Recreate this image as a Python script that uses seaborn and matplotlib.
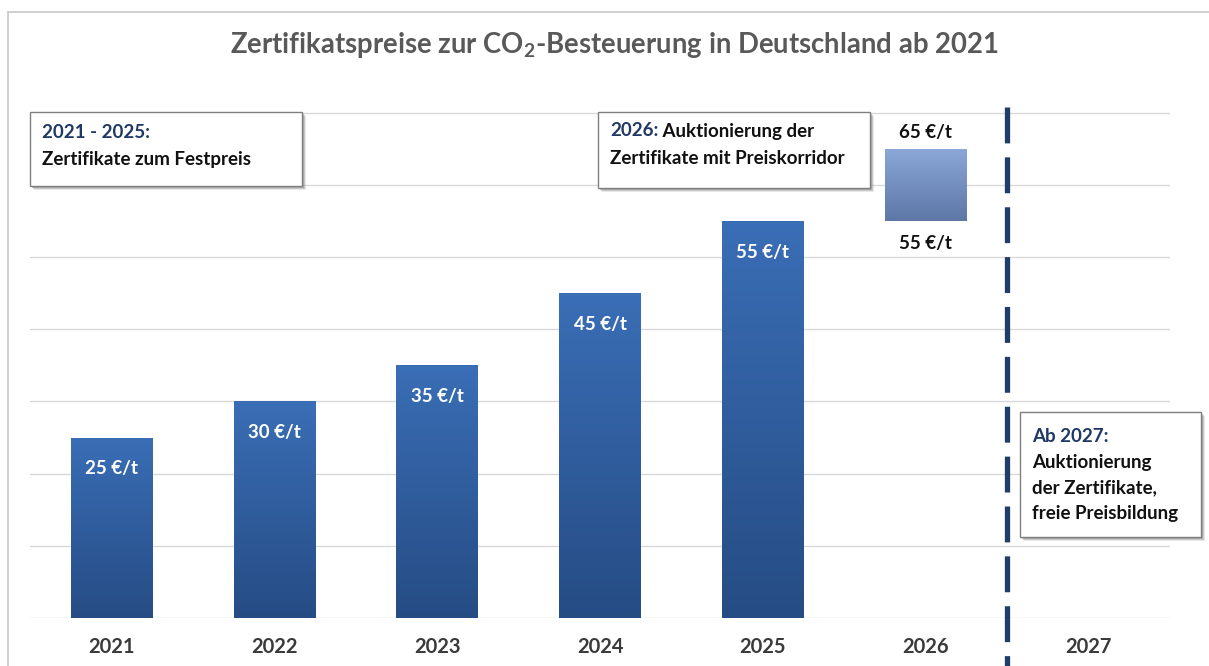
import numpy as np
import pandas as pd
import matplotlib
matplotlib.use('Agg')
import matplotlib.pyplot as plt
import seaborn as sns
from matplotlib.colors import LinearSegmentedColormap
from matplotlib.patches import Rectangle
from matplotlib.lines import Line2D
from matplotlib.text import Annotation

# --- Data ---
years = ['2021', '2022', '2023', '2024', '2025', '2026', '2027']
fixed_years = ['2021', '2022', '2023', '2024', '2025']
fixed_prices = [25, 30, 35, 45, 55]
corridor_year = '2026'
corridor_low = 55
corridor_high = 65
free_year = '2027'

title = r'Zertifikatspreise zur CO$_\mathregular{2}$-Besteuerung in Deutschland ab 2021'

box_texts = [
    ('2021 - 2025:', '', ['Zertifikate zum Festpreis']),
    ('2026:', ' Auktionierung der', ['Zertifikate mit Preiskorridor']),
    ('Ab 2027:', '', ['Auktionierung', 'der Zertifikate,', 'freie Preisbildung']),
]

df = pd.DataFrame({'year': fixed_years, 'price': fixed_prices})

# --- Style ---
sns.set_theme(style='white')
plt.rcParams['font.family'] = ['Lato', 'DejaVu Sans']
plt.rcParams['font.weight'] = 'bold'

W, H = 1209, 666
fig = plt.figure(figsize=(W / 100, H / 100), dpi=100)
fig.patch.set_facecolor('white')

def fx(x):
    return x / W

def fy(y):
    return 1 - y / H

ymax = 72
px_per_unit = 7.22
ax_top = 618 - ymax * px_per_unit
ax = fig.add_axes([fx(30), fy(618), fx(1170) - fx(30), (618 - ax_top) / H])

navy = '#1f3864'
bar_top = '#3a6eb6'
bar_bottom = '#264c84'
corr_top = '#8ba8d8'
corr_bottom = '#5d77a6'
txt_fs = 13.5

sns.barplot(data=df, x='year', y='price', order=years, width=0.5,
            color=bar_top, saturation=1, ax=ax, zorder=2)

ci = years.index(corridor_year)
ax.bar(ci, corridor_high - corridor_low, bottom=corridor_low, width=0.5,
       color=corr_top, zorder=2)


def gradient_fill(patch, top_color, bottom_color):
    x0, y0 = patch.get_x(), patch.get_y()
    w, h = patch.get_width(), patch.get_height()
    cmap = LinearSegmentedColormap.from_list('g', [bottom_color, top_color])
    grad = np.linspace(0, 1, 256).reshape(-1, 1)
    im = ax.imshow(grad, extent=[x0, x0 + w, y0, y0 + h], origin='lower',
                   aspect='auto', cmap=cmap, zorder=2.5)
    im.set_clip_path(patch)
    patch.set_facecolor('none')
    patch.set_edgecolor('none')


for p in list(ax.patches):
    if p.get_height() <= 0:
        continue
    if p.get_y() > 0:
        gradient_fill(p, corr_top, corr_bottom)
    else:
        gradient_fill(p, bar_top, bar_bottom)

ax.set_xlim(-0.5, len(years) - 0.5)
ax.set_ylim(0, ymax)

# value labels inside bars
for yr, v in zip(fixed_years, fixed_prices):
    xi = years.index(yr)
    ax.annotate(f'{v} €/t', xy=(xi, v), xytext=(0, -22.5), textcoords='offset points',
                ha='center', va='center', color='white', fontsize=txt_fs,
                fontweight='bold', zorder=4)

ax.annotate(f'{corridor_high} €/t', xy=(ci, corridor_high), xytext=(0, 12),
            textcoords='offset points', ha='center', va='center',
            color='#111111', fontsize=txt_fs, fontweight='bold')
ax.annotate(f'{corridor_low} €/t', xy=(ci, corridor_low), xytext=(0, -16),
            textcoords='offset points', ha='center', va='center',
            color='#111111', fontsize=txt_fs, fontweight='bold')

# grid
ax.set_yticks(np.arange(0, 71, 10))
ax.yaxis.grid(True, color='#d9d9d9', lw=1, zorder=0)
ax.set_axisbelow(True)
ax.tick_params(axis='y', length=0, labelleft=False)
ax.tick_params(axis='x', length=0, pad=14, labelsize=14.5, labelcolor='#3a3a3a')
for lab in ax.get_xticklabels():
    lab.set_fontweight('bold')
ax.set_xlabel('')
ax.set_ylabel('')
for s in ax.spines.values():
    s.set_visible(False)
ax.set_facecolor('none')

# dashed separator before free price formation (drawn top -> bottom)
sep = years.index(free_year) - 0.5
ax.plot([sep, sep], [(618 - 107) / (618 - ax_top), -0.12],
        transform=ax.get_xaxis_transform(), color='#1f3d66', lw=3.8,
        linestyle=(0, (6.8, 2.65)), solid_capstyle='butt', dash_capstyle='butt',
        clip_on=False, zorder=5)

# title
fig.text(fx(614), fy(45), title, ha='center', va='center', fontsize=19.8,
         fontweight='bold', color='#595959')

# frame
fig.add_artist(Line2D([fx(8), 1], [fy(12), fy(12)], color='#c8c8c8', lw=1.2))
fig.add_artist(Line2D([fx(8), fx(8)], [fy(12), 0], color='#c8c8c8', lw=1.2))

# annotation boxes
boxes = [(30, 112, 302, 186), (598, 112, 870, 188), (1020, 412, 1201, 537)]
starts = [(42, 133), (610, 131), (1032, 437)]
spacing = [27, 27, 25.5]
for (x0, y0, x1, y1), (tx, ty), dy, (head, head_rest, lines) in zip(boxes, starts, spacing, box_texts):
    for off, a in [(4, 0.18), (3, 0.3), (2, 0.4)]:
        fig.add_artist(Rectangle((fx(x0 + off), fy(y1 + off)), fx(x1 - x0), (y1 - y0) / H,
                                 transform=fig.transFigure, facecolor='#808080',
                                 edgecolor='none', alpha=a, zorder=6))
    fig.add_artist(Rectangle((fx(x0), fy(y1)), fx(x1 - x0), (y1 - y0) / H,
                             transform=fig.transFigure, facecolor='white',
                             edgecolor='#7f7f7f', lw=1, zorder=7))
    t = fig.text(fx(tx), fy(ty), head, ha='left', va='center', fontsize=txt_fs,
                 fontweight='bold', color=navy, zorder=8)
    if head_rest:
        ann = Annotation(head_rest, xy=(1, 0), xycoords=t, ha='left', va='bottom',
                         fontsize=txt_fs, fontweight='bold', color='#111111',
                         annotation_clip=False)
        ann.set_zorder(8)
        fig.add_artist(ann)
    for k, line in enumerate(lines):
        fig.text(fx(tx), fy(ty + dy * (k + 1)), line, ha='left', va='center',
                 fontsize=txt_fs, fontweight='bold', color='#111111', zorder=8)

fig.savefig('out.png', dpi=100, facecolor='white')
